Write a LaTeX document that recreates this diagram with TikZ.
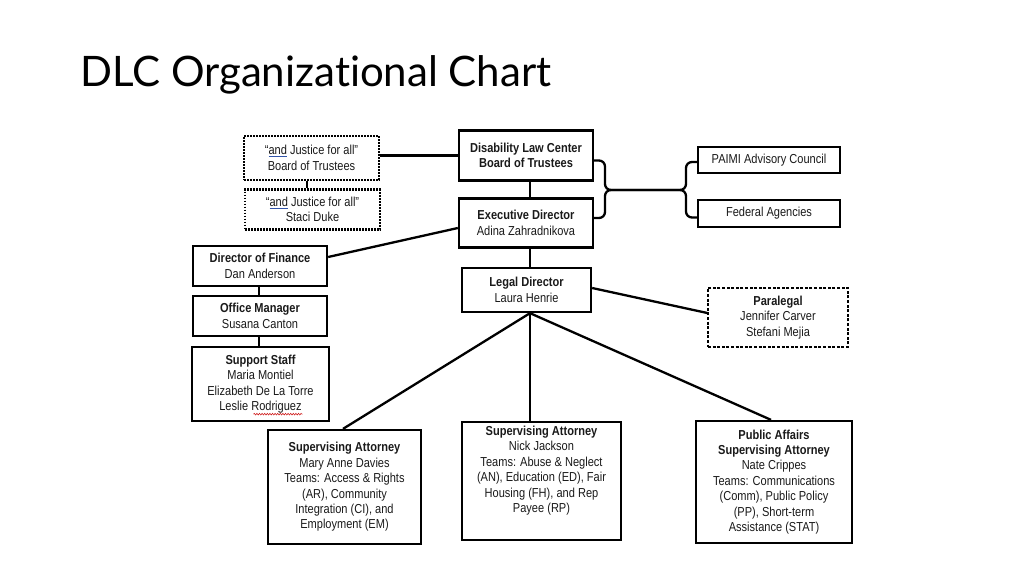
\documentclass[tikz,border=0pt]{standalone}
\usepackage{fontspec}
\usetikzlibrary{decorations.pathmorphing}
\setmainfont{Liberation Sans}
\newfontfamily\chartfont[FakeStretch=0.85]{Liberation Sans}
\newfontfamily\titlefont[Ligatures=NoCommon]{Lato}
\definecolor{ink}{HTML}{1A1A1A}
\definecolor{spell}{HTML}{3355AA}
\definecolor{spellred}{HTML}{D02020}
\newcommand{\spelland}{{\color{spell}\underline{\textcolor{ink}{and}}}}
\tikzset{
  box/.style={draw=black, line width=2.3pt, fill=white, align=center, inner sep=2pt,
    font=\chartfont\fontsize{13}{15.4}\selectfont, text=ink},
  dotbox/.style={box, line width=2.2pt, dash pattern=on 1.6pt off 1.4pt},
  dashbox/.style={box, line width=1.4pt, dash pattern=on 3pt off 1.6pt},
  conn/.style={line width=2.3pt, draw=black},
  plaintext/.style={inner sep=0pt, align=center, font=\chartfont\fontsize{13}{15.4}\selectfont, text=ink},
  wavy/.style={draw=spellred, line width=0.6pt, decorate, decoration={snake, amplitude=0.8pt, segment length=2.6pt}},
}
\begin{document}
\begin{tikzpicture}[x=1pt,y=-1pt]
\useasboundingbox (0,0) rectangle (1024,576);
\fill[white] (0,0) rectangle (1024,576);

% title
\node[anchor=base west, inner sep=0pt, font=\titlefont\fontsize{42}{50}\selectfont] (title) at (80,86) {DLC Organizational Chart};

% top row
\node[dotbox, minimum width=135pt, minimum height=44pt] (jbot) at (311.5,158) {“\spelland{} Justice for all”\\Board of Trustees};
\node[dotbox, minimum width=135pt, minimum height=40pt] (jstaci) at (312.5,209.5) {“\spelland{} Justice for all”\\Staci Duke};
\node[box, minimum width=134pt, minimum height=50pt] (dlc) at (526,155.5) {\textbf{Disability Law Center}\\\textbf{Board of Trustees}};
\node[box, minimum width=134pt, minimum height=49pt] (exec) at (526,223) {\textbf{Executive Director}\\Adina Zahradnikova};
\node[box, minimum width=142pt, minimum height=26pt] (paimi) at (769,160) {PAIMI Advisory Council};
\node[box, minimum width=142pt, minimum height=27pt] (fed) at (769,213.5) {Federal Agencies};

% left column
\node[box, minimum width=134pt, minimum height=40pt] (fin) at (260,266) {\textbf{Director of Finance}\\Dan Anderson};
\node[box, minimum width=134pt, minimum height=40pt] (office) at (260,316) {\textbf{Office Manager}\\Susana Canton};
\node[box, minimum width=137pt, minimum height=74pt] (support) at (260.5,384) {\textbf{Support Staff}\\Maria Montiel\\Elizabeth De La Torre\\Leslie Rodriguez};
\draw[wavy] ([xshift=-7pt,yshift=8pt]support.south) -- ([xshift=42pt,yshift=8pt]support.south);

% legal
\node[box, minimum width=129pt, minimum height=44pt] (legal) at (526.5,290) {\textbf{Legal Director}\\Laura Henrie};
\node[dashbox, minimum width=140pt, minimum height=59pt] (para) at (778,317.5) {\textbf{Paralegal}\\Jennifer Carver\\Stefani Mejia};

% attorneys
\node[box, minimum width=153pt, minimum height=114pt] (att1) at (344.5,487) {\textbf{Supervising Attorney}\\Mary Anne Davies\\Teams: Access \& Rights\\(AR), Community\\Integration (CI), and\\Employment (EM)};
\node[box, minimum width=159pt, minimum height=118pt] (att2) at (541.5,481) {};
\node[plaintext, anchor=north, yshift=-5pt] (att2t) at (att2.north) {\textbf{Supervising Attorney}\\Nick Jackson\\Teams: Abuse \& Neglect\\(AN), Education (ED), Fair\\Housing (FH), and Rep\\Payee (RP)};
\node[box, minimum width=156pt, minimum height=122pt] (att3) at (774,482) {\textbf{Public Affairs}\\\textbf{Supervising Attorney}\\Nate Crippes\\Teams: Communications\\(Comm), Public Policy\\(PP), Short-term\\Assistance (STAT)};

% connectors
\draw[conn] (jbot.east |- dlc.west) -- (dlc.west);
\draw[conn] ([xshift=-4.5pt]jbot.south) -- ([xshift=-4.5pt]jbot.south |- jstaci.north);
\draw[conn] ([xshift=4pt]dlc.south) -- ([xshift=4pt]exec.north);
\draw[conn] ([yshift=-5pt]exec.west) -- ([yshift=9pt]fin.east);
\draw[conn] ([xshift=-1pt]fin.south) -- ([xshift=-1pt]office.north);
\draw[conn] ([xshift=-1pt]office.south) -- ([xshift=-1.5pt]support.north);
\draw[conn] ([xshift=4pt]exec.south) -- ([xshift=4pt]exec.south |- legal.north);
\draw[conn] ([yshift=2pt]legal.east) -- ([yshift=4.5pt]para.west);

\coordinate (lb) at ([xshift=3.5pt]legal.south);
\draw[conn] (lb) -- ([xshift=-1.5pt]att1.north);
\draw[conn] (lb) -- (lb |- att2.north);
\draw[conn] (lb) -- ([xshift=-3pt]att3.north);

% braces
\coordinate (bl) at (605,190);
\coordinate (br) at (686,190);
\draw[conn, rounded corners=6pt] ([yshift=-5pt]dlc.east) -| (bl) -- (br) |- ([yshift=-2pt]paimi.west);
\draw[conn, rounded corners=6pt] ([yshift=5pt]exec.east) -| (bl) -- (br) |- ([yshift=-4pt]fed.west);
\end{tikzpicture}
\end{document}
